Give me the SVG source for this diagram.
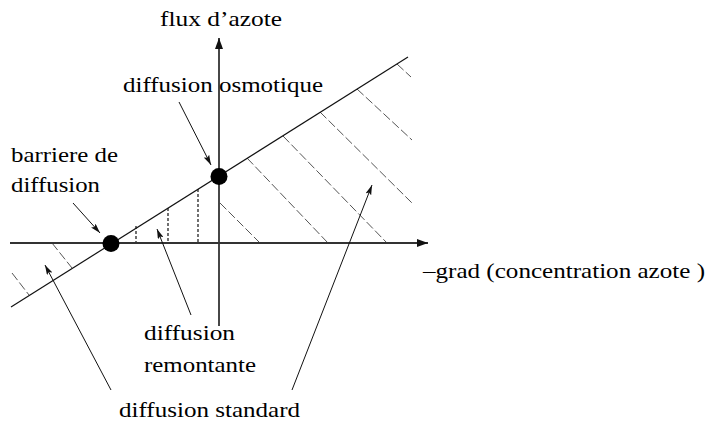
<svg xmlns="http://www.w3.org/2000/svg" width="709" height="423" viewBox="0 0 709 423">
<style>
  .axis { stroke: #333; stroke-width: 1.8; fill: none; }
  .obl { stroke: #111; stroke-width: 1.2; fill: none; }
  .hatch { stroke: #555; stroke-width: 1; stroke-dasharray: 9 3; fill: none; }
  .dot-v { stroke: #111; stroke-width: 1.2; stroke-dasharray: 3 2; fill: none; }
  .arr { stroke: #111; stroke-width: 1; fill: none; marker-end: url(#ah); }
</style>
<defs>
  <marker id="ah" markerUnits="userSpaceOnUse" viewBox="0 0 10 6" refX="10" refY="3" markerWidth="10" markerHeight="6" orient="auto">
    <path d="M0,0 L10,3 L0,6 L2,3 z" fill="#111"/>
  </marker>
  <marker id="axh" markerUnits="userSpaceOnUse" viewBox="0 0 11 8" refX="11" refY="4" markerWidth="11" markerHeight="8" orient="auto">
    <path d="M0,0 L11,4 L0,8 z" fill="#111"/>
  </marker>
</defs>
<rect width="709" height="423" fill="#fff"/>

<g id="hatching">
  <line class="hatch" x1="220" y1="203" x2="260" y2="243"/>
  <line class="hatch" x1="247" y1="158" x2="328" y2="243"/>
  <line class="hatch" x1="283" y1="136" x2="387" y2="243"/>
  <line class="hatch" x1="320" y1="112" x2="412" y2="203"/>
  <line class="hatch" x1="357" y1="89" x2="412" y2="140"/>
  <line class="hatch" x1="397" y1="64" x2="411" y2="77"/>
  <line class="hatch" x1="52" y1="243" x2="72" y2="268"/>
  <line class="hatch" x1="12" y1="273" x2="29" y2="295"/>
  <line class="dot-v" x1="136" y1="226" x2="136" y2="243"/>
  <line class="dot-v" x1="168" y1="208" x2="168" y2="243"/>
  <line class="dot-v" x1="198" y1="189" x2="198" y2="243"/>
</g>

<g id="axes">
  <line class="axis" x1="10" y1="243" x2="428" y2="243" marker-end="url(#axh)"/>
  <line class="axis" x1="219" y1="326" x2="219" y2="38" marker-end="url(#axh)"/>
  <line class="obl" x1="11" y1="307" x2="408" y2="57"/>
</g>

<g id="barriere">
  <circle cx="111" cy="243.5" r="8.5" fill="#000"/>
</g>
<g id="osmotique">
  <circle cx="219" cy="176.5" r="8.5" fill="#000"/>
</g>

<g id="connectors">
  <line class="arr" x1="179" y1="102" x2="211" y2="165"/>
  <line class="arr" x1="73" y1="203" x2="100" y2="233"/>
  <line class="arr" x1="191" y1="315" x2="157" y2="229"/>
  <line class="arr" x1="111" y1="390" x2="45" y2="265"/>
  <line class="arr" x1="292" y1="390" x2="372" y2="185"/>
</g>

<g id="labels" font-family="Liberation Serif, Times New Roman, serif" font-size="21" fill="#000">
  <text x="160" y="26" textLength="122" lengthAdjust="spacingAndGlyphs">flux d’azote</text>
  <text x="123" y="92" textLength="200" lengthAdjust="spacingAndGlyphs">diffusion osmotique</text>
  <text x="11" y="162" textLength="107" lengthAdjust="spacingAndGlyphs">barriere de</text>
  <text x="11" y="192" textLength="89" lengthAdjust="spacingAndGlyphs">diffusion</text>
  <text x="144" y="340" textLength="91" lengthAdjust="spacingAndGlyphs">diffusion</text>
  <text x="144" y="372" textLength="112" lengthAdjust="spacingAndGlyphs">remontante</text>
  <text x="119" y="417" textLength="181" lengthAdjust="spacingAndGlyphs">diffusion standard</text>
  <text x="423" y="278" textLength="282" lengthAdjust="spacingAndGlyphs">–grad (concentration azote )</text>
</g>
</svg>
